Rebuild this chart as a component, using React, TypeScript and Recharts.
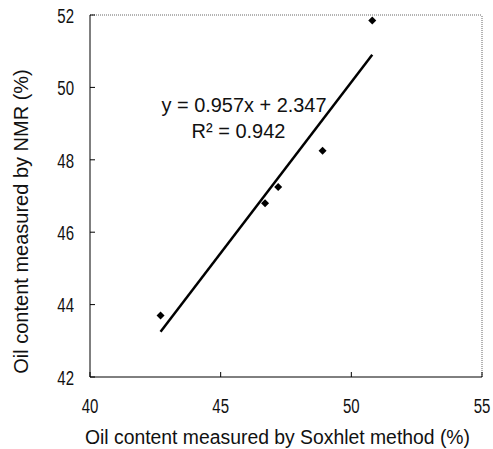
import { ScatterChart, Scatter, XAxis, YAxis, ReferenceLine, Label } from "recharts"

const SOXHLET = [42.7, 46.7, 47.2, 48.9, 50.8]
const NMR = [43.7, 46.8, 47.25, 48.25, 51.85]
const FIT_X = [42.7, 50.8]
const FIT_Y = [43.25, 50.9]
const X_TICKS = [40, 45, 50, 55]
const Y_TICKS = [42, 44, 46, 48, 50, 52]

const points = SOXHLET.map((x, i) => ({ x, y: NMR[i] }))
const fit = FIT_X.map((x, i) => ({ x, y: FIT_Y[i] }))

const FONT = "'Liberation Sans', Arial, sans-serif"

const Diamond = (props: any) => {
  const { cx, cy } = props
  const r = 4
  return <polygon points={`${cx},${cy - r} ${cx + r},${cy} ${cx},${cy + r} ${cx - r},${cy}`} fill="#000" />
}

// tick digits in the scan are tall and narrow
const YTick = (props: any) => {
  const { x, y, payload } = props
  return (
    <g transform={`translate(${x},${y + 1})`}>
      <text textAnchor="end" dominantBaseline="central" transform="scale(1,1.35)" fontSize={15} fontFamily={FONT} fill="#111">
        {payload.value}
      </text>
    </g>
  )
}

const XTick = (props: any) => {
  const { x, y, payload } = props
  return (
    <g transform={`translate(${x},${y})`}>
      <text textAnchor="middle" dominantBaseline="central" transform="scale(1,1.35)" fontSize={15} fontFamily={FONT} fill="#111">
        {payload.value}
      </text>
    </g>
  )
}

export default function App() {
  return (
    <div style={{ position: "absolute", left: 0, top: 0, background: "#fff" }}>
      <ScatterChart width={493} height={449} margin={{ top: 15, right: 11, bottom: 22, left: 0 }}>
        <XAxis
          type="number"
          dataKey="x"
          domain={[40, 55]}
          ticks={X_TICKS}
          allowDataOverflow
          height={50}
          stroke="#000"
          tickSize={-5}
          tickMargin={34}
          tick={<XTick />}
        >
          <Label
            content={() => (
              <g fontFamily={FONT} fill="#111">
                <text x={277.5} y={444} textAnchor="middle" fontSize={20} textLength={385} lengthAdjust="spacingAndGlyphs">
                  Oil content measured by Soxhlet method (%)
                </text>
                <text x={244} y={111.5} textAnchor="middle" fontSize={20} textLength={165} lengthAdjust="spacingAndGlyphs">
                  y = 0.957x + 2.347
                </text>
                <text x={238.5} y={138} textAnchor="middle" fontSize={20}>
                  R² = 0.942
                </text>
              </g>
            )}
          />
        </XAxis>
        <YAxis
          type="number"
          dataKey="y"
          domain={[42, 52]}
          ticks={Y_TICKS}
          allowDataOverflow
          width={90}
          stroke="#000"
          tickSize={-5}
          tickMargin={21}
          tick={<YTick />}
        >
          <Label
            content={() => (
              <text
                x={28}
                y={221.5}
                transform="rotate(-90 28 221.5)"
                textAnchor="middle"
                fontSize={20}
                fontFamily={FONT}
                fill="#111"
              >
                Oil content measured by NMR (%)
              </text>
            )}
          />
        </YAxis>
        <ReferenceLine y={52} stroke="#666" strokeDasharray="1 1" />
        <ReferenceLine x={55} stroke="#666" strokeDasharray="1 1" />
        <Scatter
          data={fit}
          line={{ stroke: "#000", strokeWidth: 2.5 }}
          shape={() => <g />}
          isAnimationActive={false}
        />
        <Scatter data={points} shape={<Diamond />} isAnimationActive={false} />
      </ScatterChart>
    </div>
  )
}
